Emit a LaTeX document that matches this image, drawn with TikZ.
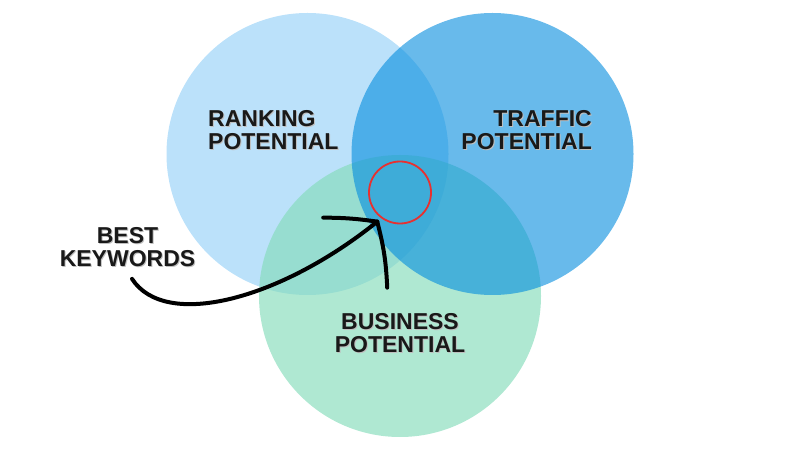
\documentclass[tikz,border=0pt]{standalone}
\usepackage{fontspec}
\setmainfont{Liberation Sans}
\usetikzlibrary{arrows.meta,positioning,calc}
\definecolor{celeste}{RGB}{187,225,250}
\definecolor{azul}{RGB}{3,140,222}
\definecolor{verde}{RGB}{132,220,186}
\definecolor{rojo}{RGB}{232,48,48}
\newcommand{\somb}[1]{\makebox[0pt][l]{\raisebox{-1pt}{\hspace{1pt}\textcolor{black!25}{#1}}}#1}
\tikzset{
  circ/.style={circle, minimum size=282pt, inner sep=0pt},
  etq/.style={font=\fontsize{23}{23}\selectfont\bfseries, inner sep=0pt, text=black!90},
  meta/.style={circle, draw=rojo, line width=1.8pt, minimum size=62pt, inner sep=0pt},
  pluma/.style={line width=4pt, line cap=round, line join=round, black},
}

\begin{document}
\begin{tikzpicture}[x=1pt,y=1pt]
  \useasboundingbox (0,0) rectangle (800,450);
  \node[circ, fill=celeste] (rank) at (307.5,296) {};
  \node[circ, fill=verde, fill opacity=0.65] (bus) at (400,154) {};
  \node[circ, fill=azul, fill opacity=0.6] (traf) at (492.5,296) {};
  \node[meta] (best) at (400,257.5) {};
  \node[etq, align=left, anchor=west] (lrank) at (208,319) {\somb{RANKING}\\\somb{POTENTIAL}};
  \node[etq, align=right, anchor=east] (ltraf) at (592,319) {\somb{TRAFFIC}\\\somb{POTENTIAL}};
  \node[etq, align=center] (lbus) at (400,116.5) {\somb{BUSINESS}\\\somb{POTENTIAL}};
  \node[etq, align=center] (kw) at (127.5,202.5) {\somb{BEST}\\\somb{KEYWORDS}};
  \coordinate (punta) at ($(best.center)+(232:37)$);
  \draw[pluma] ($(kw.south)+(4.5,-11)$) .. controls (165,120) and (280,150) .. (punta);
  \draw[pluma] (punta) to[bend right=4] ++(-54,4);
  \draw[pluma] (punta) to[bend left=6] ++(10,-66);
\end{tikzpicture}
\end{document}
